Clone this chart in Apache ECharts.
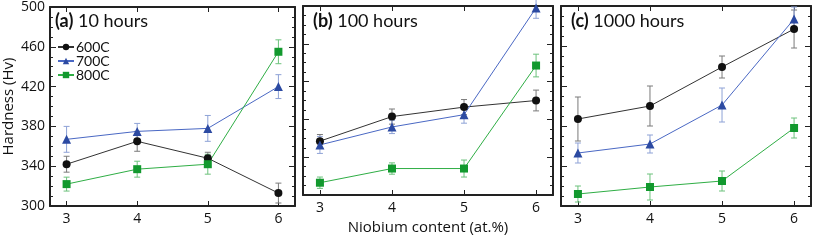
<!DOCTYPE html>
<html>
<head>
<meta charset="utf-8">
<script src="https://cdn.jsdelivr.net/npm/echarts@6/dist/echarts.min.js"></script>
<style>
html,body{margin:0;padding:0;background:#fff;}
#chart{width:813px;height:240px;}
</style>
</head>
<body>
<div id="chart"></div>
<script>
var niobium = [3, 4, 5, 6];
var panelTitles = ["(a)", "(b)", "(c)"];
var panelHours = ["10 hours", "100 hours", "1000 hours"];
var seriesNames = ["600C", "700C", "800C"];

// hardness [panel][point]
var h600 = [[342, 365, 348, 313], [357, 383, 393, 400], [387, 400, 439, 477]];
var e600 = [[8, 10, 6, 10], [7, 8, 8, 11], [22, 20, 11, 19]];
var h700 = [[367, 375, 378, 420], [353, 372, 385, 498], [353, 362, 401, 487]];
var e700 = [[13, 8, 13, 12], [9, 7, 9, 11], [10, 9, 17, 12]];
var h800 = [[322, 337, 342, 455], [313, 328, 328, 437], [312, 319, 325, 378]];
var e800 = [[7, 8, 10, 12], [6, 6, 9, 12], [8, 13, 10, 10]];

var yTicks = [300, 340, 380, 420, 460, 500];

var lineColors = ["#333333", "#4a68c4", "#2fae45"];
var markColors = ["#111111", "#2c4aa2", "#12992e"];
var errColors = ["#7a7a7a", "#8ea2d6", "#6cc27c"];
var symbols = ["circle", "triangle", "rect"];
var symSizes = [8, 9, 8];

var allH = [h600, h700, h800];
var allE = [e600, e700, e800];

var chart = echarts.init(document.getElementById("chart"));

var lefts = [45, 303, 561];
var grids = [], xAxes = [], yAxes = [], series = [], titles = [];

function errorItem(color) {
	return function (params, api) {
		var x = api.value(0), lo = api.value(1), hi = api.value(2);
		var p1 = api.coord([x, hi]);
		var p2 = api.coord([x, lo]);
		var w = 3;
		var st = {stroke: color, lineWidth: 1};
		return {type: "group", children: [
			{type: "line", shape: {x1: p1[0], y1: p1[1], x2: p2[0], y2: p2[1]}, style: st},
			{type: "line", shape: {x1: p1[0] - w, y1: p1[1], x2: p1[0] + w, y2: p1[1]}, style: st},
			{type: "line", shape: {x1: p2[0] - w, y1: p2[1], x2: p2[0] + w, y2: p2[1]}, style: st}
		]};
	};
}

for (var g = 0; g < 3; g++) {
	grids.push({left: lefts[g], top: 6, width: 250, height: 200, show: false});
	var lineSt = {show: true, lineStyle: {color: "#222", width: 2}};
	xAxes.push({
		type: "value", gridIndex: g, min: 2.765, max: 6.235, interval: 1,
		position: "bottom",
		axisLine: lineSt, splitLine: {show: false},
		axisTick: {show: true, inside: true, length: 5, lineStyle: {color: "#222"}, customValues: niobium},
		axisLabel: {show: true, color: "#111", fontSize: 14, fontFamily: "Open Sans", margin: 6, customValues: niobium, formatter: function (v) { return v; }},
		name: g == 1 ? "Niobium content (at.%)" : "", nameLocation: "middle", nameGap: 25,
		nameTextStyle: {fontSize: 15, color: "#111", fontFamily: "Open Sans"}
	});
	xAxes.push({
		type: "value", gridIndex: g, min: 2.765, max: 6.235, position: "top",
		axisLine: lineSt, splitLine: {show: false},
		axisTick: {show: true, inside: true, length: 5, lineStyle: {color: "#222"}, customValues: niobium},
		axisLabel: {show: false}
	});
	yAxes.push({
		type: "value", gridIndex: g, min: 300, max: 500, interval: 40,
		position: "left",
		axisLine: lineSt, splitLine: {show: false},
		axisTick: {show: true, inside: true, length: 6, lineStyle: {color: "#222"}},
		minorTick: {show: true, splitNumber: 4, length: 3, lineStyle: {color: "#222"}},
		axisLabel: {show: g == 0, color: "#111", fontSize: 14, fontFamily: "Open Sans", margin: 5, customValues: yTicks},
		name: g == 0 ? "Hardness (Hv)" : "", nameLocation: "middle", nameGap: 34,
		nameTextStyle: {fontSize: 15, color: "#111", fontFamily: "Open Sans"}
	});
	yAxes.push({
		type: "value", gridIndex: g, min: 300, max: 500, interval: 40,
		position: "right",
		axisLine: lineSt, splitLine: {show: false},
		axisTick: {show: true, inside: true, length: 6, lineStyle: {color: "#222"}},
		minorTick: {show: true, splitNumber: 4, length: 3, lineStyle: {color: "#222"}},
		axisLabel: {show: false}
	});
	titles.push({
		left: lefts[g] + 5, top: 7,
		text: "{b|" + panelTitles[g] + "} " + panelHours[g],
		textStyle: {fontSize: 18, fontWeight: "normal", color: "#111", fontFamily: "Lato",
			rich: {b: {fontSize: 18, fontWeight: "bold", color: "#111", fontFamily: "Lato"}}}
	});

	for (var s = 0; s < 3; s++) {
		var pts = [], errs = [];
		for (var i = 0; i < niobium.length; i++) {
			pts.push([niobium[i], allH[s][g][i]]);
			errs.push([niobium[i], allH[s][g][i] - allE[s][g][i], allH[s][g][i] + allE[s][g][i]]);
		}
		series.push({
			type: "custom", xAxisIndex: g * 2, yAxisIndex: g * 2, data: errs,
			renderItem: errorItem(errColors[s]), silent: true, z: 2, clip: false
		});
		series.push({
			name: seriesNames[s], type: "line", xAxisIndex: g * 2, yAxisIndex: g * 2, data: pts,
			symbol: symbols[s], symbolSize: symSizes[s], showSymbol: true,
			lineStyle: {color: lineColors[s], width: 1},
			itemStyle: {color: markColors[s]}, z: 3, clip: false
		});
	}
}

var option = {
	animation: false,
	backgroundColor: "#fff",
	title: titles,
	legend: {
		left: 52, top: 35, orient: "vertical", itemGap: 0,
		itemWidth: 16, itemHeight: 8,
		data: seriesNames,
		textStyle: {fontSize: 14, lineHeight: 13, color: "#111", fontFamily: "Lato", padding: [0, 0, 0, -3]}
	},
	grid: grids,
	xAxis: xAxes,
	yAxis: yAxes,
	series: series
};
chart.setOption(option);
</script>
</body>
</html>
